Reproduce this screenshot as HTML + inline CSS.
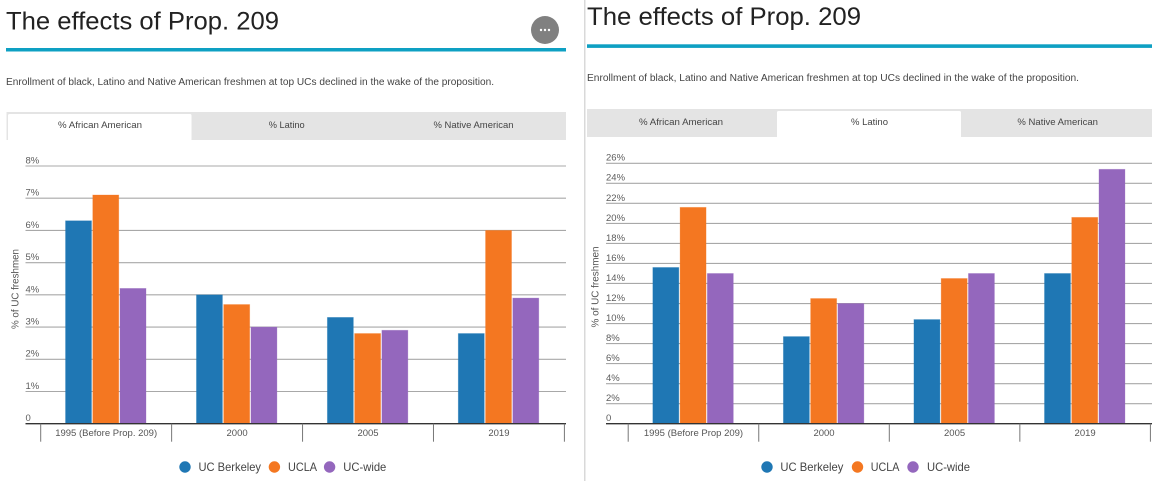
<!DOCTYPE html>
<html lang="en">
<head>
<meta charset="utf-8">
<title>The effects of Prop. 209</title>
<style>
html,body{margin:0;padding:0;background:#fff;width:1156px;height:481px;overflow:hidden}
svg{display:block;font-family:"Liberation Sans",sans-serif}
.tab{font-size:9.5px;fill:#444;text-anchor:middle}
.leg{font-size:12px;fill:#444}
</style>
</head>
<body>
<svg id="chart-root" xmlns="http://www.w3.org/2000/svg" width="1156" height="481" viewBox="0 0 1156 481">
  <rect x="584" y="0" width="1.5" height="481" fill="#d9d9d9"/>

  <g>
    <text x="6" y="29.5" font-size="25" fill="#222" textLength="273" lengthAdjust="spacingAndGlyphs">The effects of Prop. 209</text>
    <circle cx="545" cy="30" r="14" fill="#808080"/>
    <g fill="#fff">
      <circle cx="541" cy="30" r="1.2"/><circle cx="545" cy="30" r="1.2"/><circle cx="549" cy="30" r="1.2"/>
    </g>
    <rect x="6" y="48" width="560" height="3.5" fill="#0ea0c3"/>
    <text x="6" y="85" font-size="10" fill="#444" textLength="488" lengthAdjust="spacingAndGlyphs">Enrollment of black, Latino and Native American freshmen at top UCs declined in the wake of the proposition.</text>
  </g>
  <g>
    <rect x="6.5" y="112" width="559.5" height="28" fill="#e4e4e4"/>
    <rect x="8" y="114" width="183.5" height="27" rx="1.5" fill="#fff"/>
    <text class="tab" x="100" y="128" textLength="84" lengthAdjust="spacingAndGlyphs">% African American</text>
    <text class="tab" x="286.7" y="128" textLength="36" lengthAdjust="spacingAndGlyphs">% Latino</text>
    <text class="tab" x="473.5" y="128" textLength="80" lengthAdjust="spacingAndGlyphs">% Native American</text>
  </g>
  <g id="left-plot"></g>
  <text transform="translate(18.5,289) rotate(-90)" font-size="10" fill="#555" text-anchor="middle" textLength="80" lengthAdjust="spacingAndGlyphs">% of UC freshmen</text>
  <g>
    <g><circle cx="185" cy="467" r="5.7" fill="#1f77b4"/><text class="leg" x="198.5" y="471" textLength="62.5" lengthAdjust="spacingAndGlyphs">UC Berkeley</text></g>
    <g><circle cx="274.4" cy="467" r="5.7" fill="#f47721"/><text class="leg" x="288" y="471" textLength="29" lengthAdjust="spacingAndGlyphs">UCLA</text></g>
    <g><circle cx="329.6" cy="467" r="5.7" fill="#9467bd"/><text class="leg" x="343.3" y="471" textLength="43" lengthAdjust="spacingAndGlyphs">UC-wide</text></g>
  </g>

  <g>
    <text x="587" y="25" font-size="25" fill="#222" textLength="274" lengthAdjust="spacingAndGlyphs">The effects of Prop. 209</text>
    <rect x="587" y="44.3" width="565" height="3.6" fill="#0ea0c3"/>
    <text x="587" y="81" font-size="10" fill="#444" textLength="492" lengthAdjust="spacingAndGlyphs">Enrollment of black, Latino and Native American freshmen at top UCs declined in the wake of the proposition.</text>
  </g>
  <g>
    <rect x="587" y="109" width="565" height="28" fill="#e4e4e4"/>
    <rect x="777" y="111" width="184" height="27" rx="1.5" fill="#fff"/>
    <text class="tab" x="681" y="125" textLength="84" lengthAdjust="spacingAndGlyphs">% African American</text>
    <text class="tab" x="869.5" y="125" textLength="37" lengthAdjust="spacingAndGlyphs">% Latino</text>
    <text class="tab" x="1057.7" y="125" textLength="80.5" lengthAdjust="spacingAndGlyphs">% Native American</text>
  </g>
  <g id="right-plot"></g>
  <text transform="translate(598.5,287) rotate(-90)" font-size="10" fill="#555" text-anchor="middle" textLength="81" lengthAdjust="spacingAndGlyphs">% of UC freshmen</text>
  <g>
    <g><circle cx="767" cy="467" r="5.7" fill="#1f77b4"/><text class="leg" x="780.4" y="471" textLength="63" lengthAdjust="spacingAndGlyphs">UC Berkeley</text></g>
    <g><circle cx="857.5" cy="467" r="5.7" fill="#f47721"/><text class="leg" x="870.8" y="471" textLength="28.6" lengthAdjust="spacingAndGlyphs">UCLA</text></g>
    <g><circle cx="913" cy="467" r="5.7" fill="#9467bd"/><text class="leg" x="927" y="471" textLength="43" lengthAdjust="spacingAndGlyphs">UC-wide</text></g>
  </g>
</svg>
<script>
// Data: African American panel
const africanCategories = ["1995 (Before Prop. 209)", "2000", "2005", "2019"];
const africanBerkeley = [6.3, 4.0, 3.3, 2.8];
const africanUcla = [7.1, 3.7, 2.8, 6.0];
const africanWide = [4.2, 3.0, 2.9, 3.9];
const africanTicks = [0, 1, 2, 3, 4, 5, 6, 7, 8];
const africanTickLabels = ["0", "1%", "2%", "3%", "4%", "5%", "6%", "7%", "8%"];

// Data: Latino panel
const latinoCategories = ["1995 (Before Prop 209)", "2000", "2005", "2019"];
const latinoBerkeley = [15.6, 8.7, 10.4, 15.0];
const latinoUcla = [21.6, 12.5, 14.5, 20.6];
const latinoWide = [15.0, 12.0, 15.0, 25.4];
const latinoTicks = [0, 2, 4, 6, 8, 10, 12, 14, 16, 18, 20, 22, 24, 26];
const latinoTickLabels = ["0", "2%", "4%", "6%", "8%", "10%", "12%", "14%", "16%", "18%", "20%", "22%", "24%", "26%"];

const seriesNames = ["uc-berkeley", "ucla", "uc-wide"];
const seriesColors = ["#1f77b4", "#f47721", "#9467bd"];

const SVG_NS = "http://www.w3.org/2000/svg";

function make(parent, tag, attrs) {
  const el = document.createElementNS(SVG_NS, tag);
  for (const key in attrs) {
    el.setAttribute(key, attrs[key]);
  }
  parent.appendChild(el);
  return el;
}

function drawPanel(root, prefix, frame, categories, series, ticks, tickLabels) {
  const top = ticks[ticks.length - 1];
  const yScale = function (v) {
    return frame.baseY - (v / top) * (frame.baseY - frame.topY);
  };
  const bandStep = (frame.bandEnd - frame.bandStart) / categories.length;
  const bandCenter = function (i) {
    return frame.bandStart + bandStep * (i + 0.5);
  };

  ticks.forEach(function (t, i) {
    if (t !== 0) {
      const grid = make(root, "line", { x1: frame.gridStart, x2: frame.gridEnd, y1: yScale(t), y2: yScale(t), stroke: "#a8a8a8", "stroke-width": 1.1 });
      
      
    }
    const label = make(root, "text", { x: frame.gridStart, y: yScale(t) - 2.6, "font-size": 9.5, fill: "#5c5c5c" });
    
    
    label.textContent = tickLabels[i];
  });

  const barWidth = 26;
  const barStep = 27.25;
  series.forEach(function (values, s) {
    values.forEach(function (v, i) {
      const x = bandCenter(i) + (s - 1) * barStep - barWidth / 2 - 0.4;
      const bar = make(root, "rect", { x: x, y: yScale(v), width: barWidth, height: frame.baseY - yScale(v), fill: seriesColors[s], stroke: seriesColors[s], "stroke-opacity": 0.35, "stroke-width": 0.8 });
      
      
    });
  });

  const axis = make(root, "line", { x1: frame.gridStart, x2: frame.gridEnd, y1: frame.baseY, y2: frame.baseY, stroke: "#333", "stroke-width": 1.4 });
  
  

  for (let i = 0; i <= categories.length; i++) {
    const x = frame.bandStart + bandStep * i;
    const tick = make(root, "line", { x1: x, x2: x, y1: frame.baseY, y2: frame.baseY + 18, stroke: "#777", "stroke-width": 1 });
    
    
  }

  categories.forEach(function (c, i) {
    const label = make(root, "text", { x: bandCenter(i), y: frame.baseY + 12.3, "font-size": 9.5, fill: "#555", "text-anchor": "middle" });
    
    
    label.textContent = c;
  });
}

drawPanel(
  document.getElementById("left-plot"), "african-american",
  { gridStart: 25.5, gridEnd: 566, baseY: 423.7, topY: 166, bandStart: 40.7, bandEnd: 564.4 },
  africanCategories, [africanBerkeley, africanUcla, africanWide], africanTicks, africanTickLabels
);
drawPanel(
  document.getElementById("right-plot"), "latino",
  { gridStart: 606, gridEnd: 1152, baseY: 423.7, topY: 163.3, bandStart: 628.2, bandEnd: 1150.4 },
  latinoCategories, [latinoBerkeley, latinoUcla, latinoWide], latinoTicks, latinoTickLabels
);
</script>
</body>
</html>
